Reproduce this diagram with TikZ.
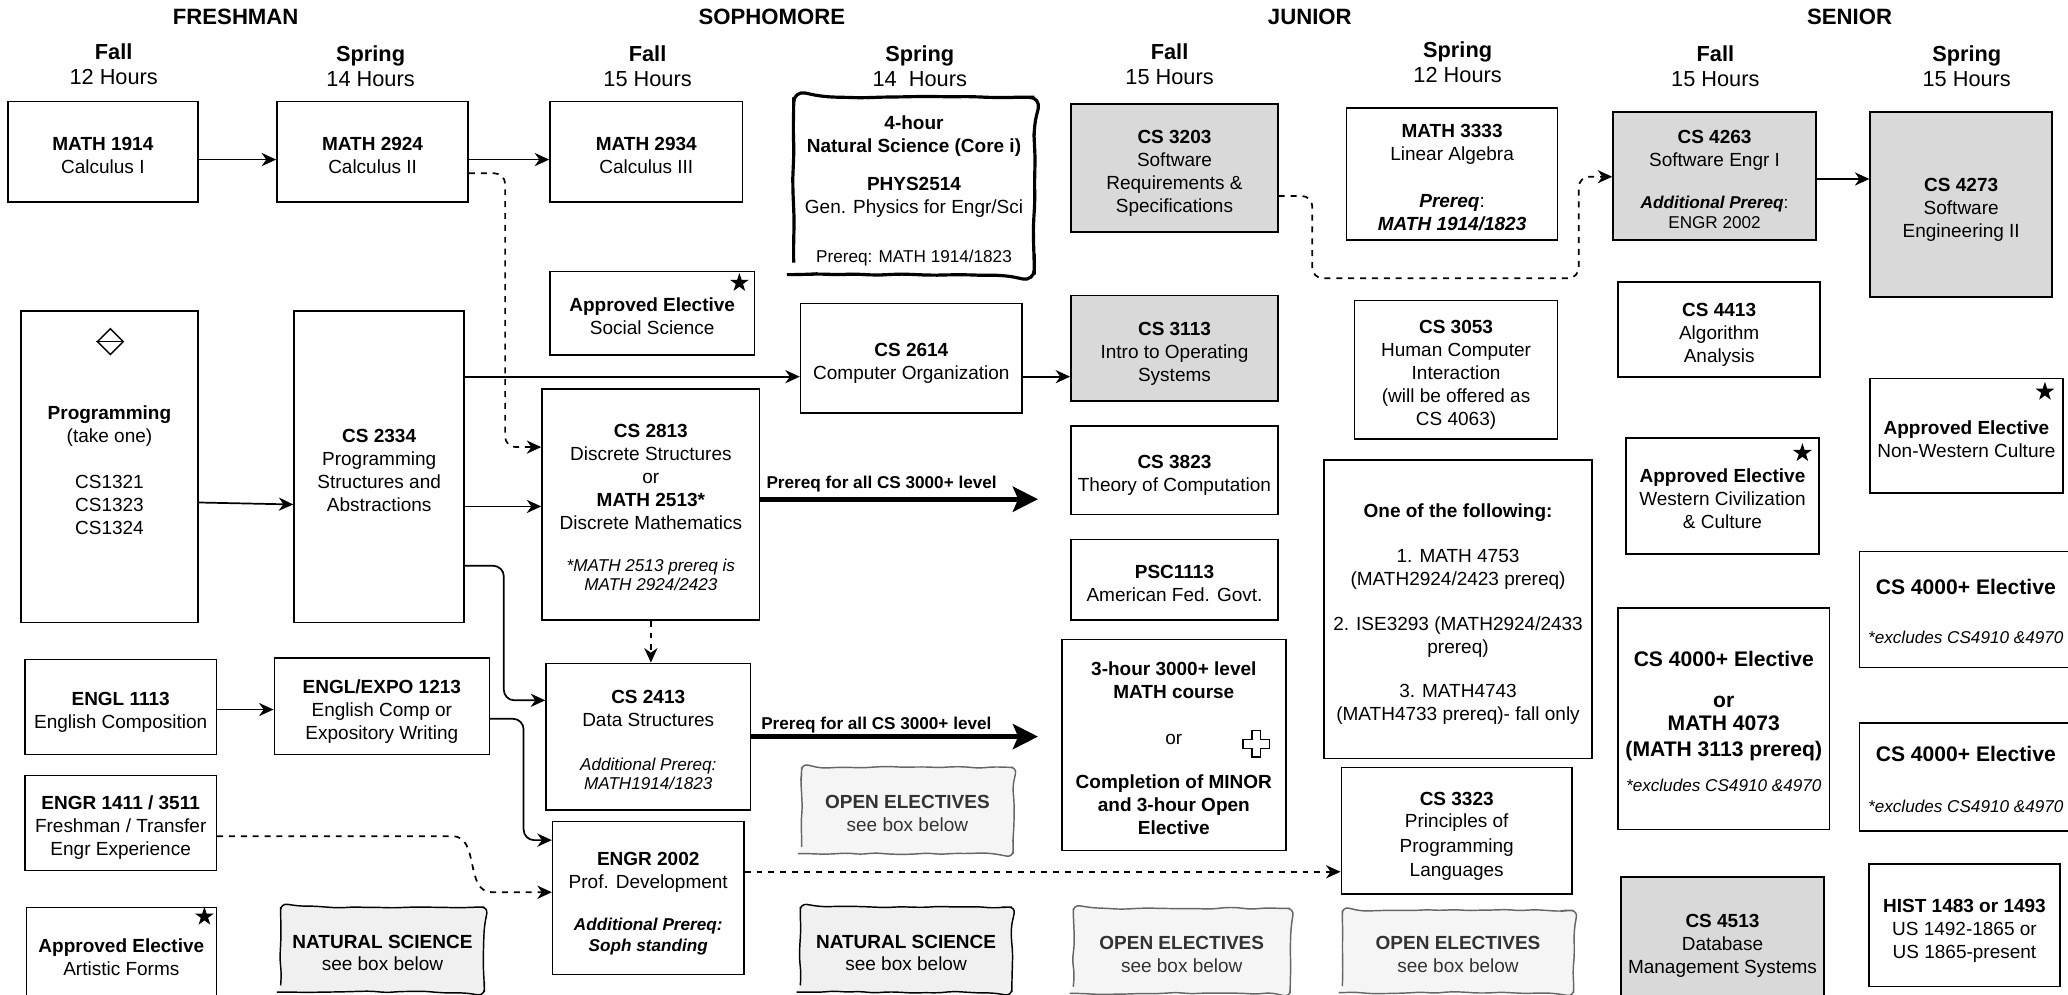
\documentclass[tikz,border=0pt]{standalone}
\usepackage{fontspec}
\setmainfont{Liberation Sans}
\usetikzlibrary{arrows.meta,shapes.geometric,decorations.pathmorphing,backgrounds}
\definecolor{cgray}{HTML}{D9D9D9}
\definecolor{nsfill}{HTML}{F0F0F0}
\definecolor{oefill}{HTML}{F5F5F5}
\definecolor{oedraw}{HTML}{666666}
\definecolor{oetext}{HTML}{333333}
\newcommand\fsm{\fontsize{13}{15.6}\selectfont}
\newcommand\fbig{\fontsize{16}{19}\selectfont}
\newcommand\T{\rule{0pt}{19pt}}
\begin{document}
\begin{tikzpicture}[x=1pt,y=-1pt,
  base/.style={font=\fontsize{14.4}{17.4}\selectfont, align=center, inner sep=0pt, text=black},
  boxtext/.style={base, execute at end node={\rule[-4pt]{0pt}{4pt}}},
  box/.style 2 args={boxtext, draw, line width=1.2pt, fill=white, minimum width=#1pt, minimum height=#2pt},
  gbox/.style 2 args={box={#1}{#2}, fill=cgray},
  tbox/.style 2 args={boxtext, minimum width=#1pt, minimum height=#2pt},
  conn/.style={line width=1.3pt, -{Stealth[length=11pt,width=10pt,inset=3.5pt]}},
  dsh/.style={dash pattern=on 4.5pt off 4.5pt},
  bigarrow/.style={line width=4pt, -{Stealth[length=19pt,width=19pt,inset=4pt]}},
  wavy/.style={decorate, decoration={random steps, segment length=10pt, amplitude=0.8pt}, rounded corners=5pt},
  hdr/.style={font=\fontsize{16.8}{19}\selectfont\bfseries, inner sep=0pt},
  sem/.style={font=\fontsize{16.5}{19}\selectfont, align=center, inner sep=0pt},
  starsym/.style={star, star points=5, star point ratio=2.6, fill=black, draw=none, minimum size=15pt, inner sep=0pt},
]
\pgfmathsetseed{7}
\useasboundingbox (0,0) rectangle (1568,754);
\begin{scope}[on background layer]
  \fill[white] (0,0) rectangle (1568,754);
\end{scope}

% year headers
\node[hdr] (yr1) at (178.7,12.6) {FRESHMAN};
\node[hdr] (yr2) at (585.3,12.6) {SOPHOMORE};
\node[hdr] (yr3) at (993.1,12.6) {JUNIOR};
\node[hdr] (yr4) at (1402.4,12.6) {SENIOR};
% semester headers
\node[sem] (s1) at (86.2,48.7) {\textbf{Fall}\\12 Hours};
\node[sem] (s2) at (281,50.1) {\textbf{Spring}\\14 Hours};
\node[sem] (s3) at (491,50.1) {\textbf{Fall}\\15 Hours};
\node[sem] (s4) at (697.4,50.1) {\textbf{Spring}\\14~ Hours};
\node[sem] (s5) at (886.8,48.9) {\textbf{Fall}\\15 Hours};
\node[sem] (s6) at (1105.2,47.4) {\textbf{Spring}\\12 Hours};
\node[sem] (s7) at (1300.6,50.1) {\textbf{Fall}\\15 Hours};
\node[sem] (s8) at (1491.2,50.1) {\textbf{Spring}\\15 Hours};

% row 1
\node[box={144}{76}] (m1914) at (78,115) {\T\textbf{MATH 1914}\\Calculus I};
\node[box={145}{76}] (m2924) at (282.5,115) {\T\textbf{MATH 2924}\\Calculus II};
\node[box={146}{76}] (m2934) at (490,115) {\T\textbf{MATH 2934}\\Calculus III};
\node[tbox={182}{134}] (ns4) at (693,141) {\T\textbf{4-hour}\\\textbf{Natural Science (Core i)}\\[11.7pt]\textbf{PHYS2514}\\Gen. Physics for Engr/Sci\\[19.5pt]{\fsm Prereq: MATH 1914/1823}};
\node[gbox={157}{97}] (cs3203) at (890.5,127.5) {\T\textbf{CS 3203}\\Software\\Requirements \&\\Specifications};
\node[box={160}{100}] (m3333) at (1101,132) {\T\textbf{MATH 3333}\\Linear Algebra\\[18pt]\textbf{\textit{Prereq}}:\\\textbf{\textit{MATH 1914/1823}}};
\node[gbox={154}{97}] (cs4263) at (1300,133.5) {\T\textbf{CS 4263}\\Software Engr I\\[15pt]{\fsm\textbf{\textit{Additional Prereq}}:}\\[-2.5pt]{\fsm ENGR 2002}};
\node[gbox={138}{140}] (cs4273) at (1487,155) {\T\textbf{CS 4273}\\Software\\Engineering II};

% row 2
\node[box={134}{236}] (prog) at (83,354) {\T\textbf{Programming}\\(take one)\\[17.4pt]CS1321\\CS1323\\CS1324};
\node[diamond, draw, line width=1.1pt, minimum width=20pt, minimum height=20pt, inner sep=0pt] (dia) at (83.7,259) {};
\draw[line width=1.1pt] (dia.west) -- (dia.east);
\node[box={129}{236}] (cs2334) at (287.5,354) {\T\textbf{CS 2334}\\Programming\\Structures and\\Abstractions};
\node[box={155}{63}] (aesoc) at (494.5,237.5) {\T\textbf{Approved Elective}\\Social Science};
\node[starsym] (st1) at (560.6,214.5) {};
\node[box={168}{83}] (cs2614) at (691,271.5) {\T\textbf{CS 2614}\\Computer Organization};
\node[gbox={157}{80}] (cs3113) at (890.5,264) {\T\textbf{CS 3113}\\Intro to Operating\\Systems};
\node[box={154}{105}] (cs3053) at (1104,280.5) {\T\textbf{CS 3053}\\Human Computer\\Interaction\\(will be offered as\\CS 4063)};
\node[box={153}{72}] (cs4413) at (1303.5,250) {\T\textbf{CS 4413}\\Algorithm\\Analysis};
\node[box={146}{87}] (aenw) at (1491,330.5) {\T\textbf{Approved Elective}\\Non-Western Culture};
\node[starsym] (st2) at (1550.5,297) {};

\node[box={165}{175}] (cs2813) at (493.5,382.5) {\T\textbf{CS 2813}\\Discrete Structures\\or\\\textbf{MATH 2513*}\\Discrete Mathematics\\[14pt]{\fsm\itshape *MATH 2513 prereq is}\\[-2.5pt]{\fsm\itshape MATH 2924/2423}};
\node[box={157}{67}] (cs3823) at (890.5,356.5) {\T\textbf{CS 3823}\\Theory of Computation};
\node[box={203}{226}] (oneof) at (1105.5,462) {\T\textbf{One of the following:}\\[16.5pt]1. MATH 4753\\(MATH2924/2423 prereq)\\[16.5pt]2. ISE3293 (MATH2924/2433\\prereq)\\[16.5pt]3. MATH4743\\(MATH4733 prereq)- fall only};
\node[box={146}{88}] (aewc) at (1306,376) {\T\textbf{Approved Elective}\\Western Civilization\\\& Culture};
\node[starsym] (st3) at (1366.6,343.5) {};
\node[box={157}{61}] (psc) at (890.5,439.5) {\T\textbf{PSC1113}\\American Fed. Govt.};
\node[box={161}{88}] (cse1) at (1490.5,462) {\T{\fbig\bfseries CS 4000+ Elective}\\[19.4pt]{\fsm\itshape *excludes CS4910 \&4970}};
\node[box={161}{82}] (cse2) at (1490.5,589) {\T{\fbig\bfseries CS 4000+ Elective}\\[21.4pt]{\fsm\itshape *excludes CS4910 \&4970}};
\node[box={170}{160}] (math3h) at (890,565) {\T\textbf{3-hour 3000+ level}\\\textbf{MATH course}\\[17.5pt]or\\[16.5pt]\textbf{Completion of MINOR}\\\textbf{and 3-hour Open}\\\textbf{Elective}};
\draw[line width=1pt, shift={(952.5,564)}] (-3.3,-10) -- (3.3,-10) -- (3.3,-3.3) -- (10,-3.3) -- (10,3.3) -- (3.3,3.3) -- (3.3,10) -- (-3.3,10) -- (-3.3,3.3) -- (-10,3.3) -- (-10,-3.3) -- (-3.3,-3.3) -- cycle;
\node[box={160}{168}] (cseor) at (1307,545) {\T{\fbig\bfseries CS 4000+ Elective}\\[14.4pt]{\fbig\bfseries or}\\{\fbig\bfseries MATH 4073}\\[2pt]{\fbig\bfseries (MATH 3113 prereq)}\\[9pt]{\fsm\itshape *excludes CS4910 \&4970}};

% row 3
\node[box={145}{72}] (engl1113) at (91.5,536) {\T\textbf{ENGL 1113}\\English Composition};
\node[box={163}{73}] (engl1213) at (289.5,535.5) {\T\textbf{ENGL/EXPO 1213}\\English Comp or\\Expository Writing};
\node[box={155}{111}] (cs2413) at (491.5,558.5) {\T\textbf{CS 2413}\\Data Structures\\[15.5pt]{\fsm\itshape Additional Prereq:}\\[-3pt]{\fsm\itshape MATH1914/1823}};
\node[tbox={160}{65}] (oe1) at (688,614.5) {\T\textcolor{oetext}{\textbf{OPEN ELECTIVES}}\\\textcolor{oetext}{see box below}};
\node[box={145}{72}] (engr1411) at (91.5,624) {\T\textbf{ENGR 1411 / 3511}\\Freshman / Transfer\\Engr Experience};
\node[box={145}{116}] (engr2002) at (491.5,681) {\T\textbf{ENGR 2002}\\Prof. Development\\[15pt]{\fsm\bfseries\itshape Additional Prereq:}\\[-2pt]{\fsm\bfseries\itshape Soph standing}};
\node[box={175}{96}] (cs3323) at (1104.5,630) {\T\textbf{CS 3323}\\Principles of\\[1pt]Programming\\[1pt]Languages};
\node[gbox={154}{96}] (cs4513) at (1306,713) {\T\textbf{CS 4513}\\Database\\Management Systems};
\node[box={145}{93}] (hist) at (1489.5,701.5) {\T\textbf{HIST 1483 or 1493}\\US 1492-1865 or\\US 1865-present};

% bottom row
\node[box={144}{71}] (aeaf) at (92,723.5) {\T\textbf{Approved Elective}\\Artistic Forms};
\node[starsym] (st4) at (155,695) {};
\node[tbox={154}{64}] (ns1) at (290,720) {\T\textbf{NATURAL SCIENCE}\\see box below};
\node[tbox={160}{64}] (ns2) at (687,720) {\T\textbf{NATURAL SCIENCE}\\see box below};
\node[tbox={164}{64}] (oe2) at (896,721) {\T\textcolor{oetext}{\textbf{OPEN ELECTIVES}}\\\textcolor{oetext}{see box below}};
\node[tbox={175}{62}] (oe3) at (1105.5,721.5) {\T\textcolor{oetext}{\textbf{OPEN ELECTIVES}}\\\textcolor{oetext}{see box below}};

% wavy outlines
\begin{scope}[on background layer]
  \filldraw[wavy, fill=white, draw=black, line width=2.4pt, rounded corners=9pt, decoration={segment length=14pt}] (ns4.south west) rectangle (ns4.north east);
  \filldraw[wavy, fill=nsfill, draw=black, line width=1.1pt] (ns1.south west) rectangle (ns1.north east);
  \filldraw[wavy, fill=nsfill, draw=black, line width=1.1pt] (ns2.south west) rectangle (ns2.north east);
  \filldraw[wavy, fill=oefill, draw=oedraw, line width=1.1pt] (oe1.south west) rectangle (oe1.north east);
  \filldraw[wavy, fill=oefill, draw=oedraw, line width=1.1pt] (oe2.south west) rectangle (oe2.north east);
  \filldraw[wavy, fill=oefill, draw=oedraw, line width=1.1pt] (oe3.south west) rectangle (oe3.north east);
\end{scope}

% connectors
\draw[conn] (m1914.east |- 0,121) -- (m2924.west |- 0,121);
\draw[conn] (m2924.east |- 0,121) -- (m2934.west |- 0,121);
\draw[conn, dsh, rounded corners=8pt] (m2924.east |- 0,131.4) -- (383,131.4) -- (383,339) -- (cs2813.west |- 0,339);
\draw[conn] (cs2334.east |- 0,285.6) -- (cs2614.west |- 0,285.6);
\draw[conn] (cs2614.east |- 0,285.6) -- (cs3113.west |- 0,285.6);
\draw[conn] (prog.east |- 0,381) -- (cs2334.west |- 0,382.5);
\draw[conn] (cs2334.east |- 0,384) -- (cs2813.west |- 0,384);
\draw[conn, rounded corners=8pt] (cs2334.east |- 0,429) -- (382,429) -- (382,531) -- (cs2413.west |- 0,531);
\draw[conn, dsh] (cs2813.south) -- (cs2813.south |- cs2413.north);
\draw[conn] (engl1113.east |- 0,538) -- (engl1213.west |- 0,538);
\draw[conn, rounded corners=8pt] (engl1213.east |- 0,545) -- (397,545) -- (397,637) -- (engr2002.west |- 0,637);
\draw[conn, dsh] (engr1411.east |- 0,634) -- (343,634) .. controls (364,634) and (352,676.5) .. (373,676.5) -- (engr2002.west |- 0,676.5);
\draw[conn, dsh] (engr2002.east |- 0,661) -- (cs3323.west |- 0,661);
\draw[conn, dsh, rounded corners=8pt] (cs3203.east |- 0,148.6) -- (995,148.6) -- (995,211) -- (1197,211) -- (1197,134) -- (cs4263.west |- 0,134);
\draw[conn] (cs4263.east |- 0,135.7) -- (cs4273.west |- 0,135.7);

% prerequisite arrows
\coordinate (p1e) at (787,378.5);
\coordinate (p2e) at (787,558.5);
\draw[bigarrow] (cs2813.east |- p1e) -- (p1e);
\draw[bigarrow] (cs2413.east |- p2e) -- (p2e);
\node[base, font=\fsm\bfseries, anchor=base west] (p1l) at (581,370.7) {Prereq for all CS 3000+ level};
\node[base, font=\fsm\bfseries, anchor=base west] (p2l) at (577,553) {Prereq for all CS 3000+ level};
\end{tikzpicture}
\end{document}
